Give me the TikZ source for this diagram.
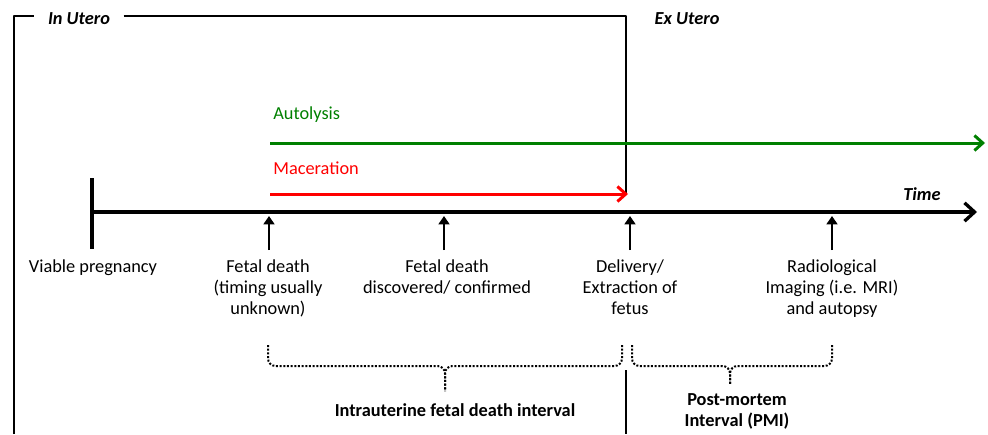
\documentclass[tikz,border=0pt]{standalone}
\usepackage{fontspec}
\setmainfont{Carlito}
\usepackage{xcolor}
\usepackage{tikz}
\usetikzlibrary{arrows.meta,positioning,calc}
\definecolor{autogreen}{RGB}{0,128,0}

\begin{document}
\begin{tikzpicture}[x=0.6pt, y=-0.6pt, font=\fontsize{11}{12.6}\selectfont,
    frame/.style={line width=1.2pt, line join=round},
    axisline/.style={line width=2pt},
    evarrow/.style={line width=1.7pt, -{Triangle[length=5pt, width=6.5pt]}},
    lbl/.style={anchor=north, align=center, inner sep=0pt},
    interval/.style={line width=1.2pt, densely dotted, rounded corners=4.5pt}]
\useasboundingbox (0,0) rectangle (988,434);
% In utero / ex utero frame
\coordinate (fbl) at (14,434);
\coordinate (ftl) at (14,16);
\coordinate (ftr) at (626,16);
\coordinate (fmr) at (626,194);
\coordinate (flt) at (626,370);
\coordinate (flb) at (626,434);
\node[font=\fontsize{11}{12.6}\selectfont\bfseries\itshape, inner sep=0pt] (inutero) at (79,19) {In Utero};
\node[font=\fontsize{11}{12.6}\selectfont\bfseries\itshape, inner sep=0pt] (exutero) at (687,19) {Ex Utero};
\draw[frame] (fbl) -- (ftl) -- ([xshift=-8pt]ftl -| inutero.west);
\draw[frame] ([xshift=8pt]ftl -| inutero.east) -- (ftr) -- (fmr);
\draw[frame] (flt) -- (flb);
% Autolysis and maceration
\node[text=autogreen, anchor=west, inner sep=0pt] (autolysis) at (273,115) {Autolysis};
\coordinate (als) at (270,143);
\coordinate (ale) at (985,143);
\draw[autogreen, line width=1.8pt, -{Straight Barb[length=5pt, width=9pt]}] (als) -- (ale);
\node[text=red, anchor=west, inner sep=0pt] (maceration) at (273,168) {Maceration};
\coordinate (mcs) at (270,194);
\coordinate (mce) at (628,194);
\draw[red, line width=1.8pt, -{Straight Barb[length=5pt, width=9pt]}] (mcs) -- (mce);
% Time axis
\coordinate (t0) at (92,212);
\coordinate (tend) at (977,212);
\coordinate (ttop) at (92,178);
\coordinate (tbot) at (92,249);
\draw[axisline, -{Straight Barb[length=6pt, width=11pt]}] (t0) -- (tend);
\draw[axisline] (ttop) -- (tbot);
\node[font=\fontsize{11}{12.6}\selectfont\bfseries\itshape, inner sep=0pt] (time) at (922,194) {Time};
% Event markers
\foreach \x/\name in {269/fd, 444/fc, 630/dl, 832/ri}{
    \coordinate (\name-base) at (\x,250);
    \coordinate (\name-tip) at (\x,216);
    \draw[evarrow] (\name-base) -- (\name-tip);
}
% Event labels
\node[lbl] (viable) at (93,259) {Viable pregnancy};
\node[lbl] (fetaldeath) at (268,259) {Fetal death\\(timing usually\\unknown)};
\node[lbl] (confirmed) at (447,259) {Fetal death\\discovered/ confirmed};
\node[lbl] (delivery) at (630,259) {Delivery/\\Extraction of\\fetus};
\node[lbl] (imaging) at (832,259) {Radiological\\Imaging (i.e. MRI)\\and autopsy};
% Intervals (dotted braces)
\coordinate (b1l) at (268,345);
\coordinate (b1r) at (622,345);
\coordinate (b1m) at (445,366);
\coordinate (b1tip) at (445,391);
\coordinate (b2l) at (632,345);
\coordinate (b2r) at (832,345);
\coordinate (b2m) at (730,366);
\coordinate (b2tip) at (730,385);
\draw[interval] (b1l) |- (b1m) -- (b1tip);
\draw[interval] (b1r) |- (b1m) -- (b1tip);
\draw[interval] (b2l) |- (b2m) -- (b2tip);
\draw[interval] (b2r) |- (b2m) -- (b2tip);
\node[font=\fontsize{11}{12.6}\selectfont\bfseries, inner sep=0pt] (iufd) at (455,410) {Intrauterine fetal death interval};
\node[font=\fontsize{11}{12.6}\selectfont\bfseries, align=center, inner sep=0pt] (pmi) at (737,411) {Post-mortem\\Interval (PMI)};
\end{tikzpicture}
\end{document}
